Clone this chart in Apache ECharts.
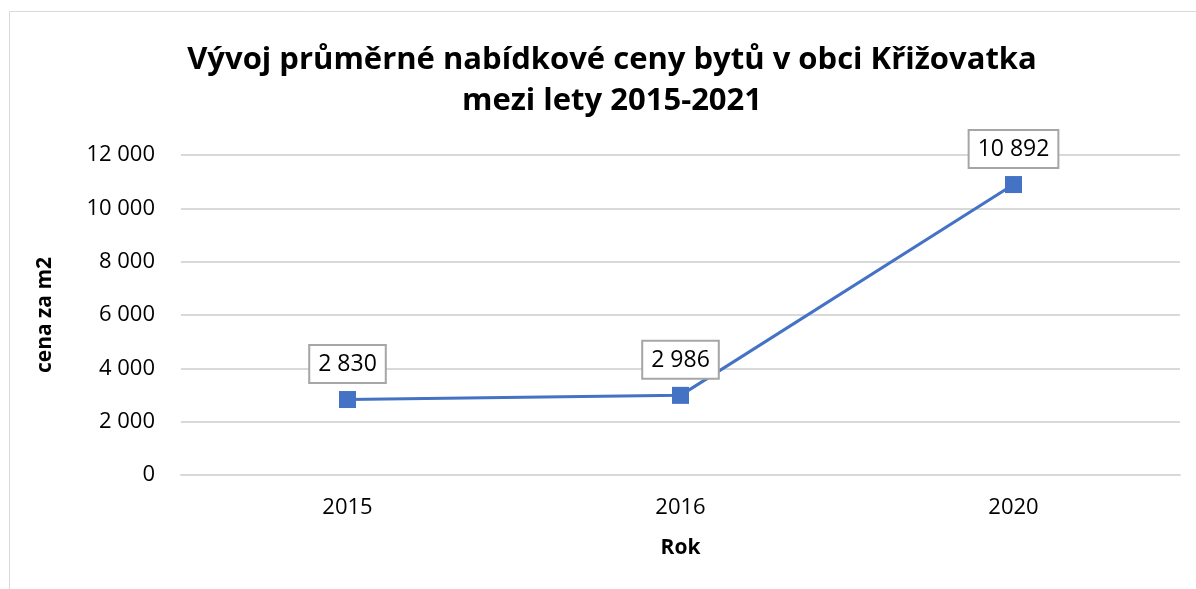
<!DOCTYPE html>
<html>
<head>
<meta charset="utf-8">
<script src="https://cdn.jsdelivr.net/npm/echarts@6/dist/echarts.min.js"></script>
<style>
	html, body { margin: 0; padding: 0; background: #fff; }
	#chart { width: 1196px; height: 589px; }
</style>
</head>
<body>
<div id="chart"></div>
<script>
const years = ['2015', '2016', '2020'];
const prices = [2830, 2986, 10892];
const yTicks = [0, 2000, 4000, 6000, 8000, 10000, 12000];

const font = '"Open Sans", "Noto Sans", sans-serif';

function fmt(v) {
	return String(v).replace(/\B(?=(\d{3})+(?!\d))/g, ' ');
}

const chart = echarts.init(document.getElementById('chart'));
chart.setOption({
	animation: false,
	textStyle: { fontFamily: font },
	title: {
		text: 'Vývoj průměrné nabídkové ceny bytů v obci Křižovatka\nmezi lety 2015-2021',
		left: 607,
		textAlign: 'center',
		top: 35,
		textStyle: {
			fontSize: 31,
			fontWeight: 'bold',
			color: '#000',
			lineHeight: 41,
			fontFamily: font
		}
	},
	graphic: [{
		type: 'rect',
		shape: { x: 9.5, y: 11.5, width: 1200, height: 600 },
		style: { fill: 'none', stroke: '#d9d9d9', lineWidth: 1 },
		silent: true
	}],
	grid: { left: 181, right: 16, top: 155, bottom: 114 },
	xAxis: {
		type: 'category',
		data: years,
		name: 'Rok',
		nameLocation: 'middle',
		nameGap: 63,
		nameTextStyle: { fontSize: 21, fontWeight: 'bold', color: '#000' },
		axisLine: { lineStyle: { color: '#d9d9d9', width: 2 } },
		axisTick: { show: false },
		axisLabel: { fontSize: 22, color: '#000', margin: 22 }
	},
	yAxis: {
		type: 'value',
		min: yTicks[0],
		max: yTicks[yTicks.length - 1],
		interval: 2000,
		name: 'cena za m2',
		nameLocation: 'middle',
		nameGap: 125,
		nameTextStyle: { fontSize: 21, fontWeight: 'bold', color: '#000' },
		axisLine: { show: false },
		axisTick: { show: false },
		axisLabel: { fontSize: 22, color: '#000', margin: 26, formatter: fmt },
		splitLine: { lineStyle: { color: '#d9d9d9', width: 2 } }
	},
	series: [{
		type: 'line',
		data: prices,
		symbol: 'rect',
		symbolSize: 17,
		itemStyle: { color: '#4472c4' },
		lineStyle: { color: '#4472c4', width: 3 },
		label: {
			show: true,
			position: 'top',
			distance: 9,
			formatter: p => fmt(p.value),
			fontSize: 23,
			color: '#000',
			backgroundColor: '#fff',
			borderColor: '#a6a6a6',
			borderWidth: 2,
			padding: [7, 8, 6, 8]
		}
	}]
});
</script>
</body>
</html>
